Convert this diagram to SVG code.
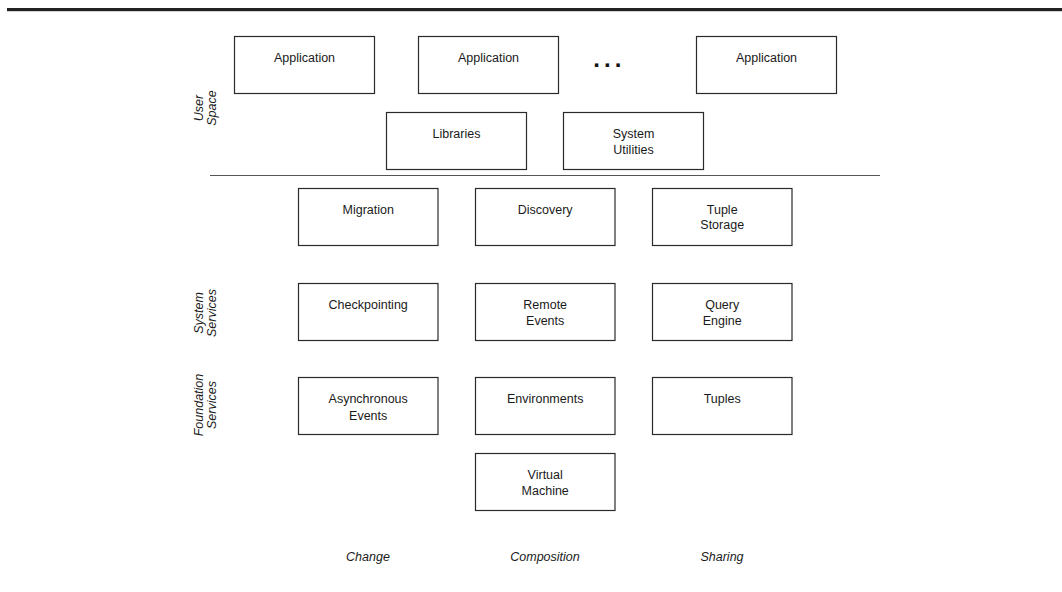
<svg xmlns="http://www.w3.org/2000/svg" width="1062" height="592" viewBox="0 0 1062 592">
  <style>
    .box { fill: #ffffff; stroke: #2a2a2a; stroke-width: 1.2; }
    .lbl { font-family: "Liberation Sans", Arial, sans-serif; font-size: 12.5px; fill: #1a1a1a; text-anchor: middle; }
    .side { font-family: "Liberation Sans", Arial, sans-serif; font-size: 12.5px; font-style: italic; fill: #1a1a1a; text-anchor: middle; }
  </style>
  <rect width="1062" height="592" fill="#ffffff"/>

  <!-- header rule -->
  <rect x="7" y="8" width="1055" height="3.2" fill="#222222"/>

  <!-- user space / kernel separator -->
  <line x1="210" y1="175.5" x2="880" y2="175.5" stroke="#555555" stroke-width="1"/>

  <!-- layer labels -->
  <g id="label-user-space">
    <text class="side" transform="translate(203.3,108) rotate(-90)"><tspan x="0" y="0">User</tspan><tspan x="0" y="12.5">Space</tspan></text>
  </g>
  <g id="label-system-services">
    <text class="side" transform="translate(203.3,313) rotate(-90)"><tspan x="0" y="0">System</tspan><tspan x="0" y="12.5">Services</tspan></text>
  </g>
  <g id="label-foundation-services">
    <text class="side" transform="translate(203.3,405) rotate(-90)"><tspan x="0" y="0">Foundation</tspan><tspan x="0" y="12.5">Services</tspan></text>
  </g>

  <!-- user space -->
  <g id="app1"><rect class="box" x="234.5" y="36.5" width="140" height="57"/><text class="lbl" x="304.5" y="61.5">Application</text></g>
  <g id="app2"><rect class="box" x="418.5" y="36.5" width="140" height="57"/><text class="lbl" x="488.5" y="61.5">Application</text></g>
  <g id="ellipsis"><text x="593.3" y="67.3" font-family="Liberation Sans, Arial, sans-serif" font-size="24" font-weight="bold" letter-spacing="4.1" fill="#111111">...</text></g>
  <g id="app3"><rect class="box" x="696.5" y="36.5" width="140" height="57"/><text class="lbl" x="766.5" y="61.5">Application</text></g>
  <g id="libraries"><rect class="box" x="386.5" y="112.5" width="140" height="57"/><text class="lbl" x="456.5" y="138">Libraries</text></g>
  <g id="system-utilities"><rect class="box" x="563.5" y="112.5" width="140" height="57"/><text class="lbl" x="633.5" y="138.3">System</text><text class="lbl" x="633.5" y="153.5">Utilities</text></g>

  <!-- system services -->
  <g id="migration"><rect class="box" x="298.5" y="188.5" width="139.5" height="57"/><text class="lbl" x="368.2" y="213.5">Migration</text></g>
  <g id="discovery"><rect class="box" x="475.5" y="188.5" width="139.5" height="57"/><text class="lbl" x="545.2" y="213.5">Discovery</text></g>
  <g id="tuple-storage"><rect class="box" x="652.5" y="188.5" width="139.5" height="57"/><text class="lbl" x="722.2" y="213.5">Tuple</text><text class="lbl" x="722.2" y="229.3">Storage</text></g>

  <g id="checkpointing"><rect class="box" x="298.5" y="283.5" width="139.5" height="57"/><text class="lbl" x="368.2" y="309">Checkpointing</text></g>
  <g id="remote-events"><rect class="box" x="475.5" y="283.5" width="139.5" height="57"/><text class="lbl" x="545.2" y="309">Remote</text><text class="lbl" x="545.2" y="325">Events</text></g>
  <g id="query-engine"><rect class="box" x="652.5" y="283.5" width="139.5" height="57"/><text class="lbl" x="722.2" y="309">Query</text><text class="lbl" x="722.2" y="325">Engine</text></g>

  <!-- foundation services -->
  <g id="asynchronous-events"><rect class="box" x="298.5" y="377.5" width="139.5" height="57"/><text class="lbl" x="368.2" y="403.3">Asynchronous</text><text class="lbl" x="368.2" y="420">Events</text></g>
  <g id="environments"><rect class="box" x="475.5" y="377.5" width="139.5" height="57"/><text class="lbl" x="545.2" y="403.3">Environments</text></g>
  <g id="tuples"><rect class="box" x="652.5" y="377.5" width="139.5" height="57"/><text class="lbl" x="722.2" y="403.3">Tuples</text></g>
  <g id="virtual-machine"><rect class="box" x="475.5" y="453.5" width="139.5" height="57"/><text class="lbl" x="545.2" y="478.5">Virtual</text><text class="lbl" x="545.2" y="495">Machine</text></g>

  <!-- column captions -->
  <g id="caption-change"><text class="side" x="368" y="560.7">Change</text></g>
  <g id="caption-composition"><text class="side" x="545" y="560.7">Composition</text></g>
  <g id="caption-sharing"><text class="side" x="722" y="560.7">Sharing</text></g>

  <!-- no connectors in this layered view -->
  <g id="connectors"/>
</svg>
